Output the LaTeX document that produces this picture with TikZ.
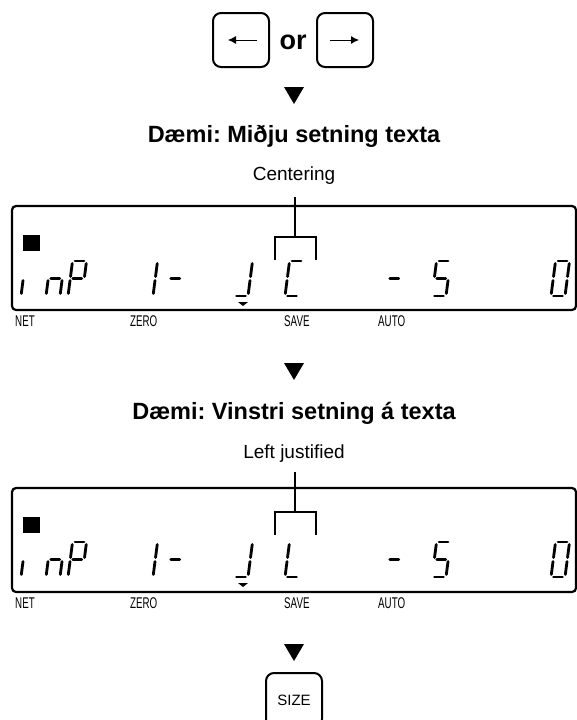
\documentclass[tikz,border=0pt]{standalone}
\usepackage{fontspec}
\setmainfont{Liberation Sans}
\newfontfamily\narrowfont[FakeStretch=0.63]{Liberation Sans}
\usetikzlibrary{arrows.meta}
\frenchspacing
\newcommand\segA{\draw[lcdseg] (2.5,35)--(11.5,35);}
\newcommand\segB{\draw[lcdseg] (14,32.5)--(14,19.5);}
\newcommand\segC{\draw[lcdseg] (14,15.5)--(14,2.5);}
\newcommand\segD{\draw[lcdseg] (2.5,0)--(11.5,0);}
\newcommand\segE{\draw[lcdseg] (0,2.5)--(0,15.5);}
\newcommand\segF{\draw[lcdseg] (0,19.5)--(0,32.5);}
\newcommand\segG{\draw[lcdseg] (2.5,17.5)--(11.5,17.5);}
\newcommand\lcdchar[3]{\begin{scope}[shift={(#1,#2)},y=1pt,xslant=0.13]#3\end{scope}}
\begin{document}
\begin{tikzpicture}[x=1pt,y=-1pt,
  keybox/.style={draw, line width=2, rounded corners=8, minimum width=56, minimum height=54, inner sep=0},
  lcdframe/.style={draw, line width=2.2, rounded corners=4, minimum width=564, minimum height=104, inner sep=0},
  lcdseg/.style={line width=2.8, line cap=round},
  title/.style={font=\bfseries\fontsize{23.5}{28}\selectfont, anchor=base, inner sep=0},
  caption/.style={font=\fontsize{19}{23}\selectfont, anchor=base, inner sep=0},
  lbl/.style={font=\narrowfont\fontsize{15.5}{18}\selectfont, anchor=base west, inner sep=0},
  brk/.style={line width=1.2},
  karrow/.style={line width=0.9, -{Latex[length=8,width=8]}}
]
\useasboundingbox (0,0) rectangle (576,720);

% keys
\node[keybox] (kl) at (241,40) {};
\node[keybox] (kr) at (345,40) {};
\node[font=\bfseries\fontsize{27}{30}\selectfont, inner sep=0] (or) at (293,42.5) {or};
\draw[karrow] ([xshift=16pt]kl.center) -- ([xshift=-13pt]kl.center);
\draw[karrow] ([xshift=-15pt]kr.center) -- ([xshift=14pt]kr.center);
\fill (284,87) -- (304,87) -- (294,104) -- cycle;

% section 1
\node[title] (t1) at (294,142) {Dæmi: Miðju setning texta};
\node[caption] (c1) at (294,180) {Centering};
\node[lcdframe] (d1) at (294,258) {};
\fill (23,235) rectangle (40,251);
\coordinate (s1) at (295,197);
\coordinate (j1) at (295,237);
\coordinate (bl1) at (275,260);
\coordinate (br1) at (316,260);
\draw[brk] (s1) -- (j1);
\draw[brk] (bl1) |- (j1) -| (br1);
\lcdchar{21}{296}{\segE}
\lcdchar{46}{296}{\segG\segE\segC}
\lcdchar{68}{296}{\segA\segB\segF\segG\segE}
\lcdchar{153}{296}{\segE\segF}
\lcdchar{166}{296}{\segG}
\lcdchar{234}{296}{\segB\segC\segD}
\lcdchar{285}{296}{\segA\segF\segE\segD}
\lcdchar{385}{296}{\segG}
\lcdchar{432}{296}{\segA\segF\segG\segC\segD}
\lcdchar{551}{296}{\segA\segB\segC\segD\segE\segF}
\fill (238,302) -- (248,302) -- (243,306) -- cycle;
\node[lbl] (net1) at (15,326) {NET};
\node[lbl] (zero1) at (130,326) {ZERO};
\node[lbl] (save1) at (284,326) {SAVE};
\node[lbl] (auto1) at (378,326) {AUTO};
\fill (284,363) -- (304,363) -- (294,380) -- cycle;

% section 2
\node[title] (t2) at (294,419) {Dæmi: Vinstri setning á texta};
\node[caption] (c2) at (294,458) {Left justified};
\node[lcdframe] (d2) at (294,540) {};
\fill (23,517) rectangle (40,533);
\coordinate (s2) at (295,472);
\coordinate (j2) at (295,512);
\coordinate (bl2) at (275,535);
\coordinate (br2) at (316,535);
\draw[brk] (s2) -- (j2);
\draw[brk] (bl2) |- (j2) -| (br2);
\lcdchar{21}{577}{\segE}
\lcdchar{46}{577}{\segG\segE\segC}
\lcdchar{68}{577}{\segA\segB\segF\segG\segE}
\lcdchar{153}{577}{\segE\segF}
\lcdchar{166}{577}{\segG}
\lcdchar{234}{577}{\segB\segC\segD}
\lcdchar{285}{577}{\segF\segE\segD}
\lcdchar{385}{577}{\segG}
\lcdchar{432}{577}{\segA\segF\segG\segC\segD}
\lcdchar{551}{577}{\segA\segB\segC\segD\segE\segF}
\fill (238,583) -- (248,583) -- (243,587) -- cycle;
\node[lbl] (net2) at (15,608) {NET};
\node[lbl] (zero2) at (130,608) {ZERO};
\node[lbl] (save2) at (284,608) {SAVE};
\node[lbl] (auto2) at (378,608) {AUTO};
\fill (284,644) -- (304,644) -- (294,661) -- cycle;

% size key
\node[keybox, font=\fontsize{15}{18}\selectfont] (size) at (294,700) {SIZE};
\end{tikzpicture}
\end{document}
